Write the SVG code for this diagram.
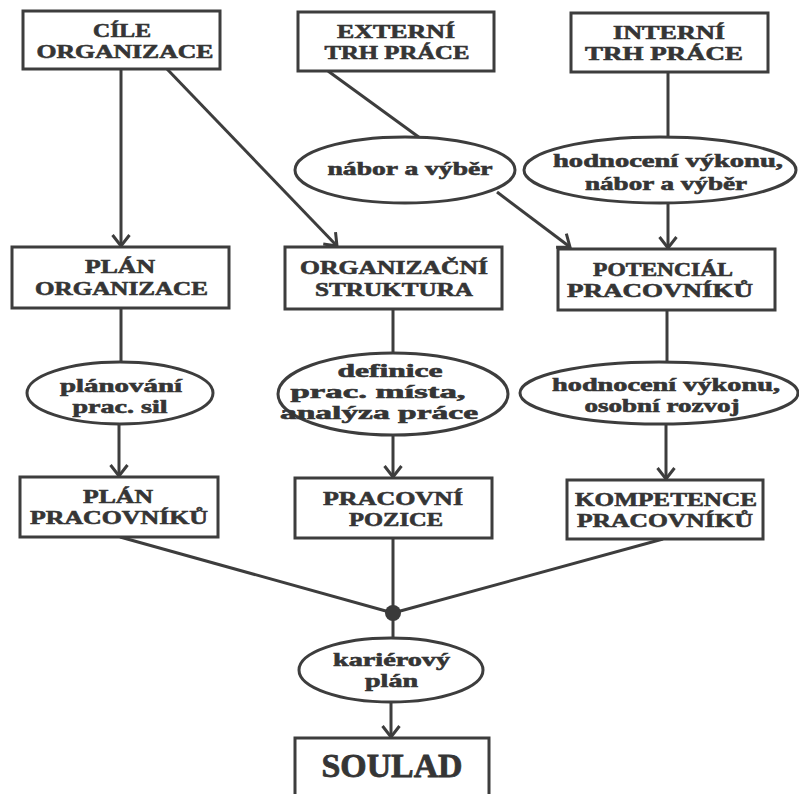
<svg xmlns="http://www.w3.org/2000/svg" width="799" height="794" viewBox="0 0 799 794">
<defs>
<marker id="arr" markerUnits="userSpaceOnUse" viewBox="-14 -11 16 22" markerWidth="16" markerHeight="22" refX="0" refY="0" orient="auto">
<path d="M-11,-8.5 L0,0 L-11,8.5" fill="none" stroke="#3d3d3d" stroke-width="3"/>
</marker>
</defs>
<style>
rect.box{fill:#fff;stroke:#3d3d3d;stroke-width:3}
ellipse.el{fill:#fff;stroke:#3d3d3d;stroke-width:3}
.c line{stroke:#3d3d3d;stroke-width:3;fill:none}
text{font-family:"Liberation Serif","DejaVu Serif",serif;font-weight:bold;fill:#353535;stroke:#353535;stroke-width:0.6;text-anchor:middle}
text.b{font-size:19px}
text.e{font-size:18px}
text.big{font-size:33px;stroke-width:0.8}
</style>
<rect width="799" height="794" fill="#fff"/>
<g class="c" id="connectors">
<line x1="121" y1="69" x2="121" y2="246" marker-end="url(#arr)"/>
<line x1="167" y1="69" x2="337" y2="246" marker-end="url(#arr)"/>
<line x1="328" y1="71" x2="420" y2="138"/>
<line x1="497" y1="192" x2="570" y2="247" marker-end="url(#arr)"/>
<line x1="668" y1="72" x2="668" y2="138"/>
<line x1="668" y1="204" x2="668" y2="248" marker-end="url(#arr)"/>
<line x1="121" y1="308" x2="121" y2="362"/>
<line x1="119" y1="424" x2="119" y2="476" marker-end="url(#arr)"/>
<line x1="393" y1="309" x2="393" y2="353"/>
<line x1="393" y1="435" x2="393" y2="477" marker-end="url(#arr)"/>
<line x1="667" y1="310" x2="667" y2="362"/>
<line x1="666" y1="424" x2="666" y2="479" marker-end="url(#arr)"/>
<line x1="120" y1="537" x2="393" y2="613"/>
<line x1="393" y1="538" x2="393" y2="638"/>
<line x1="663" y1="539" x2="393" y2="613"/>
<line x1="391" y1="702" x2="391" y2="737" marker-end="url(#arr)"/>
<circle cx="393" cy="613" r="8" fill="#3a3a3a"/>
</g>
<g id="cile">
<rect class="box" x="23" y="11" width="197" height="58"/>
<text class="b" x="122" y="37" textLength="58" lengthAdjust="spacingAndGlyphs">CÍLE</text>
<text class="b" x="125" y="58" textLength="177" lengthAdjust="spacingAndGlyphs">ORGANIZACE</text>
</g>
<g id="externi">
<rect class="box" x="298" y="12" width="196" height="59"/>
<text class="b" x="396" y="38" textLength="118" lengthAdjust="spacingAndGlyphs">EXTERNÍ</text>
<text class="b" x="397" y="59" textLength="145" lengthAdjust="spacingAndGlyphs">TRH PRÁCE</text>
</g>
<g id="interni">
<rect class="box" x="571" y="13" width="197" height="59"/>
<text class="b" x="669" y="39" textLength="112" lengthAdjust="spacingAndGlyphs">INTERNÍ</text>
<text class="b" x="664" y="60" textLength="158" lengthAdjust="spacingAndGlyphs">TRH PRÁCE</text>
</g>
<g id="nabor">
<ellipse class="el" cx="405" cy="170" rx="110" ry="33"/>
<text class="e" x="410" y="175" textLength="165" lengthAdjust="spacingAndGlyphs">nábor a výběr</text>
</g>
<g id="hodnoceni1">
<ellipse class="el" cx="660" cy="170" rx="136" ry="33"/>
<text class="e" x="668" y="167" textLength="230" lengthAdjust="spacingAndGlyphs">hodnocení výkonu,</text>
<text class="e" x="666" y="190" textLength="162" lengthAdjust="spacingAndGlyphs">nábor a výběr</text>
</g>
<g id="plan-org">
<rect class="box" x="12" y="247" width="217" height="61"/>
<text class="b" x="120" y="273" textLength="70" lengthAdjust="spacingAndGlyphs">PLÁN</text>
<text class="b" x="121.5" y="295" textLength="173" lengthAdjust="spacingAndGlyphs">ORGANIZACE</text>
</g>
<g id="org-struktura">
<rect class="box" x="285" y="247" width="217" height="62"/>
<text class="b" x="394" y="274" textLength="188" lengthAdjust="spacingAndGlyphs">ORGANIZAČNÍ</text>
<text class="b" x="394" y="296" textLength="158" lengthAdjust="spacingAndGlyphs">STRUKTURA</text>
</g>
<g id="potencial">
<rect class="box" x="558" y="249" width="217" height="61"/>
<text class="b" x="663" y="276" textLength="140" lengthAdjust="spacingAndGlyphs">POTENCIÁL</text>
<text class="b" x="660" y="297" textLength="186" lengthAdjust="spacingAndGlyphs">PRACOVNÍKŮ</text>
</g>
<g id="planovani">
<ellipse class="el" cx="120" cy="393" rx="93" ry="31"/>
<text class="e" x="121" y="392" textLength="122" lengthAdjust="spacingAndGlyphs">plánování</text>
<text class="e" x="120" y="413" textLength="95" lengthAdjust="spacingAndGlyphs">prac. sil</text>
</g>
<g id="definice">
<ellipse class="el" cx="393" cy="394" rx="115" ry="41"/>
<text class="e" x="390" y="377" textLength="105" lengthAdjust="spacingAndGlyphs">definice</text>
<text class="e" x="378" y="398" textLength="175" lengthAdjust="spacingAndGlyphs">prac. místa,</text>
<text class="e" x="379" y="419" textLength="198" lengthAdjust="spacingAndGlyphs">analýza práce</text>
</g>
<g id="hodnoceni2">
<ellipse class="el" cx="659" cy="393" rx="139" ry="31"/>
<text class="e" x="666" y="391" textLength="228" lengthAdjust="spacingAndGlyphs">hodnocení výkonu,</text>
<text class="e" x="662" y="412" textLength="155" lengthAdjust="spacingAndGlyphs">osobní rozvoj</text>
</g>
<g id="plan-pracovniku">
<rect class="box" x="20" y="477" width="198" height="60"/>
<text class="b" x="118" y="503" textLength="70" lengthAdjust="spacingAndGlyphs">PLÁN</text>
<text class="b" x="119" y="524" textLength="178" lengthAdjust="spacingAndGlyphs">PRACOVNÍKŮ</text>
</g>
<g id="pracovni-pozice">
<rect class="box" x="295" y="478" width="197" height="60"/>
<text class="b" x="393" y="505" textLength="140" lengthAdjust="spacingAndGlyphs">PRACOVNÍ</text>
<text class="b" x="396" y="526" textLength="94" lengthAdjust="spacingAndGlyphs">POZICE</text>
</g>
<g id="kompetence">
<rect class="box" x="567" y="480" width="196" height="59"/>
<text class="b" x="666" y="506" textLength="182" lengthAdjust="spacingAndGlyphs">KOMPETENCE</text>
<text class="b" x="665" y="527" textLength="176" lengthAdjust="spacingAndGlyphs">PRACOVNÍKŮ</text>
</g>
<g id="karierovy">
<ellipse class="el" cx="391" cy="670" rx="92" ry="32"/>
<text class="e" x="391.5" y="666" textLength="117" lengthAdjust="spacingAndGlyphs">kariérový</text>
<text class="e" x="391.5" y="687" textLength="53" lengthAdjust="spacingAndGlyphs">plán</text>
</g>
<g id="soulad">
<rect class="box" x="295" y="738" width="194" height="70"/>
<text class="big" x="392" y="777" textLength="141" lengthAdjust="spacingAndGlyphs">SOULAD</text>
</g>
</svg>
